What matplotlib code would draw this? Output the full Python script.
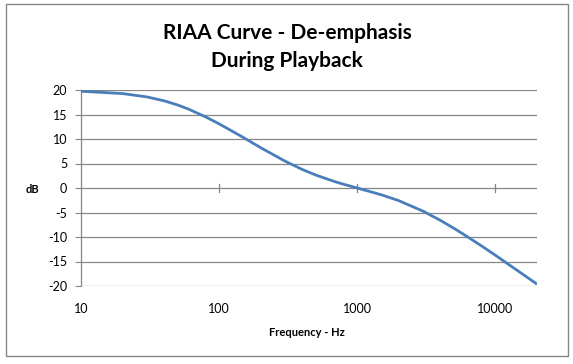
import matplotlib
matplotlib.use("Agg")
import matplotlib.pyplot as plt
from matplotlib.patches import Rectangle
from matplotlib.ticker import FixedLocator, NullLocator

freq_hz = [10, 20, 30, 40, 50, 60, 80, 100, 150, 200, 300, 400, 500, 700, 800,
           1000, 1500, 2000, 3000, 4000, 5000, 6000, 8000, 10000, 15000, 20000]
gain_db = [19.74, 19.27, 18.59, 17.79, 16.95, 16.10, 14.50, 13.09, 10.30, 8.22,
           5.48, 3.78, 2.65, 1.23, 0.75, 0.0, -1.40, -2.59, -4.74, -6.61, -8.21,
           -9.60, -11.89, -13.73, -17.17, -19.62]
x_ticks = [10, 100, 1000, 10000]
x_tick_labels = ["10", "100", "1000", "10000"]
y_ticks = [-20, -15, -10, -5, 0, 5, 10, 15, 20]

W, H = 573, 364
fig = plt.figure(figsize=(W / 100, H / 100), dpi=100)
fig.patch.set_facecolor("white")
fig.patches.append(Rectangle((6 / W, 1 - 356 / H), 562 / W, 352 / H,
                             transform=fig.transFigure, fill=False,
                             edgecolor="#868686", linewidth=1.0))

ax = fig.add_axes([81 / W, 1 - 286 / H, 456 / W, 196 / H])
ax.set_xscale("log")
ax.set_xlim(10, 20000)
ax.set_ylim(-20, 20)

grid_c = "#868686"
for y in y_ticks:
    ax.axhline(y, color=grid_c, linewidth=0.9, zorder=1)
for s in ["top", "right", "bottom"]:
    ax.spines[s].set_visible(False)
ax.spines["left"].set_color(grid_c)
ax.spines["left"].set_linewidth(0.9)

# cross tick marks on the zero axis
for xt in x_ticks[1:]:
    ax.plot([xt, xt], [-0.9, 0.9], color=grid_c, linewidth=0.9, zorder=1)

ax.plot(freq_hz, gain_db, color="#4a7ebb", linewidth=2.0, zorder=3,
        solid_capstyle="butt")

font = "Lato"
ax.set_yticks(y_ticks)
ax.set_yticklabels([str(v) for v in y_ticks], fontfamily=font, fontsize=9)
ax.tick_params(axis="y", length=4, color=grid_c, pad=6)
ax.xaxis.set_major_locator(FixedLocator(x_ticks))
ax.xaxis.set_minor_locator(NullLocator())
ax.set_xticklabels(x_tick_labels, fontfamily=font, fontsize=9)
ax.tick_params(axis="x", length=0, pad=12)

fig.text(287 / W, 1 - 47 / H, "RIAA Curve - De-emphasis\nDuring Playback",
         ha="center", va="center", fontfamily=font, fontweight="bold",
         fontsize=15, linespacing=1.5)
fig.text(32 / W, 1 - 189 / H, "dB", ha="center", va="center",
         fontfamily=font, fontweight="bold", fontsize=8)
fig.text(307 / W, 1 - 333 / H, "Frequency - Hz", ha="center", va="center",
         fontfamily=font, fontweight="bold", fontsize=8)

fig.savefig("out.png", dpi=100)
